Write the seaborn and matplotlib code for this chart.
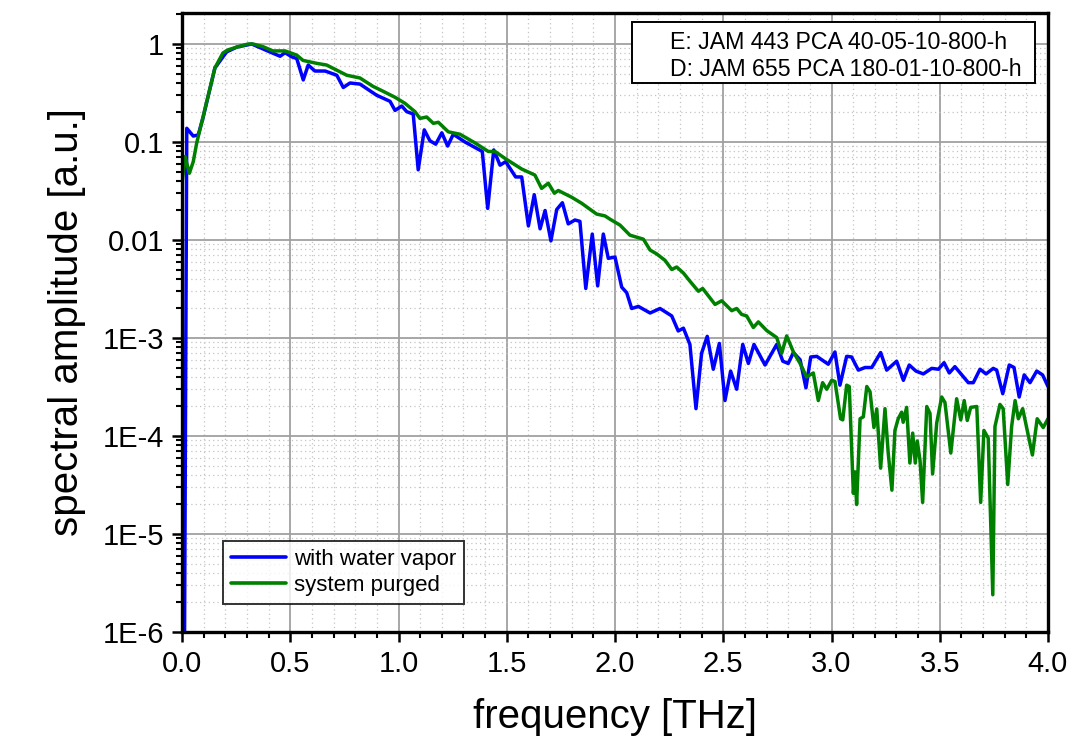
import numpy as np
import pandas as pd
import matplotlib
matplotlib.use("Agg")
import matplotlib.pyplot as plt
import seaborn as sns
from matplotlib.ticker import (FixedLocator, FixedFormatter, MultipleLocator,
                               LogLocator, NullFormatter)
from matplotlib.patches import Rectangle

# ---------------- data ----------------
freq_vapor = [0.0, 0.022, 0.052, 0.075, 0.098, 0.152, 0.206, 0.253, 0.322, 0.406,
              0.453, 0.476, 0.507, 0.530, 0.560, 0.583, 0.614, 0.661, 0.715, 0.745,
              0.776, 0.822, 0.899, 0.961, 0.984, 1.015, 1.038, 1.068, 1.091, 1.119,
              1.145, 1.172, 1.200, 1.227, 1.253, 1.307, 1.353, 1.387, 1.412, 1.440,
              1.469, 1.495, 1.541, 1.569, 1.600, 1.627, 1.654, 1.677, 1.704, 1.731,
              1.757, 1.784, 1.815, 1.838, 1.865, 1.895, 1.920, 1.946, 1.969, 2.000,
              2.031, 2.054, 2.077, 2.108, 2.162, 2.208, 2.262, 2.292, 2.316, 2.346,
              2.374, 2.400, 2.426, 2.454, 2.482, 2.508, 2.534, 2.562, 2.590, 2.616,
              2.642, 2.693, 2.747, 2.775, 2.800, 2.824, 2.855, 2.882, 2.904, 2.932,
              2.985, 3.016, 3.039, 3.070, 3.093, 3.124, 3.155, 3.186, 3.227, 3.255,
              3.301, 3.332, 3.359, 3.390, 3.424, 3.463, 3.494, 3.520, 3.544, 3.570,
              3.632, 3.655, 3.686, 3.714, 3.747, 3.763, 3.791, 3.821, 3.843, 3.867,
              3.890, 3.917, 3.948, 3.975, 4.000]
amp_vapor = [1e-12, 0.138, 0.115, 0.118, 0.18, 0.57, 0.83, 0.93, 1.0, 0.83,
             0.75, 0.815, 0.74, 0.71, 0.43, 0.61, 0.53, 0.53, 0.48, 0.36,
             0.40, 0.39, 0.30, 0.26, 0.21, 0.233, 0.204, 0.193, 0.052, 0.133,
             0.103, 0.095, 0.124, 0.091, 0.12, 0.10, 0.088, 0.08, 0.021, 0.083,
             0.058, 0.063, 0.044, 0.044, 0.0139, 0.029, 0.013, 0.020, 0.0098, 0.0205,
             0.024, 0.0146, 0.016, 0.0155, 0.0032, 0.0115, 0.0034, 0.0115, 0.0065, 0.0067,
             0.0033, 0.0029, 0.0020, 0.0021, 0.0018, 0.0020, 0.00168, 0.00118, 0.00126, 0.00086,
             0.00019, 0.00070, 0.00104, 0.00048, 0.00088, 0.00023, 0.00046, 0.00030, 0.00086, 0.00055,
             0.00086, 0.00053, 0.00086, 0.00058, 0.00055, 0.00071, 0.00060, 0.00031, 0.00064, 0.00065,
             0.00054, 0.00072, 0.00033, 0.00065, 0.00064, 0.00047, 0.00050, 0.00050, 0.00071, 0.00047,
             0.00058, 0.00037, 0.00053, 0.00046, 0.00043, 0.00049, 0.00048, 0.00056, 0.00044, 0.00051,
             0.00035, 0.00035, 0.00048, 0.00043, 0.00049, 0.00047, 0.00027, 0.00053, 0.00050, 0.00025,
             0.00042, 0.00035, 0.00046, 0.00042, 0.00032]

freq_purged = [0.0, 0.014, 0.034, 0.052, 0.068, 0.097, 0.152, 0.189, 0.212, 0.253,
               0.305, 0.328, 0.374, 0.420, 0.476, 0.530, 0.559, 0.622, 0.668, 0.730,
               0.761, 0.822, 0.882, 0.928, 0.984, 1.030, 1.076, 1.099, 1.130, 1.161,
               1.184, 1.230, 1.284, 1.353, 1.415, 1.446, 1.492, 1.569, 1.630, 1.661,
               1.692, 1.720, 1.738, 1.800, 1.846, 1.915, 1.954, 1.977, 2.023, 2.069,
               2.131, 2.162, 2.193, 2.231, 2.262, 2.285, 2.316, 2.346, 2.385, 2.405,
               2.431, 2.462, 2.493, 2.539, 2.562, 2.585, 2.608, 2.639, 2.662, 2.701,
               2.747, 2.770, 2.793, 2.824, 2.855, 2.885, 2.916, 2.939, 2.959, 2.978,
               3.001, 3.016, 3.042, 3.052, 3.070, 3.082, 3.101, 3.109, 3.116, 3.132,
               3.147, 3.163, 3.178, 3.196, 3.209, 3.227, 3.247, 3.262, 3.279, 3.293,
               3.308, 3.324, 3.331, 3.347, 3.362, 3.375, 3.387, 3.396, 3.409, 3.421,
               3.440, 3.455, 3.467, 3.486, 3.509, 3.524, 3.551, 3.578, 3.597, 3.613,
               3.627, 3.643, 3.671, 3.689, 3.704, 3.724, 3.745, 3.755, 3.778, 3.793,
               3.814, 3.832, 3.848, 3.863, 3.883, 3.904, 3.928, 3.950, 3.978, 4.000]
amp_purged = [0.038, 0.071, 0.048, 0.063, 0.098, 0.18, 0.57, 0.81, 0.87, 0.93,
              1.0, 1.0, 0.94, 0.85, 0.85, 0.77, 0.68, 0.635, 0.61, 0.52,
              0.48, 0.45, 0.37, 0.33, 0.286, 0.248, 0.204, 0.174, 0.18, 0.155,
              0.159, 0.127, 0.12, 0.098, 0.08, 0.08, 0.068, 0.053, 0.046, 0.0336,
              0.038, 0.030, 0.032, 0.0273, 0.0237, 0.0184, 0.0176, 0.0163, 0.0142, 0.0112,
              0.0102, 0.0079, 0.0072, 0.0062, 0.0050, 0.0053, 0.0046, 0.0038, 0.0030, 0.0032,
              0.0027, 0.0022, 0.0024, 0.0019, 0.0020, 0.00174, 0.00168, 0.00128, 0.00146, 0.00119,
              0.00101, 0.00070, 0.00105, 0.00072, 0.00055, 0.00040, 0.00044, 0.00023, 0.00035, 0.00030,
              0.00037, 0.00036, 0.00015, 0.000146, 0.00033, 0.00032, 2.6e-5, 4.3e-5, 2.0e-5, 0.00015,
              0.000157, 0.00032, 0.000283, 0.000122, 0.000189, 4.7e-5, 0.00019, 6.7e-5, 2.8e-5, 0.000114,
              0.00015, 0.000175, 0.000138, 0.000196, 5.3e-5, 0.000107, 5.3e-5, 8.9e-5, 5.6e-5, 2.1e-5,
              0.0002, 0.00017, 4.1e-5, 0.000136, 0.00025, 0.00022, 6.7e-5, 0.00024, 0.000146, 0.00023,
              0.000144, 0.000196, 0.0002, 2.1e-5, 0.000114, 9.5e-5, 2.4e-6, 0.000125, 0.00021, 0.00019,
              3.2e-5, 0.000125, 0.00023, 0.00015, 0.00019, 0.000114, 6.4e-5, 0.00015, 0.000122, 0.00015]

series_labels = ["with water vapor", "system purged"]
series_colors = ["#0000ff", "#008000"]

x_ticks = [0.0, 0.5, 1.0, 1.5, 2.0, 2.5, 3.0, 3.5, 4.0]
x_tick_labels = ["0.0", "0.5", "1.0", "1.5", "2.0", "2.5", "3.0", "3.5", "4.0"]
y_ticks = [1, 0.1, 0.01, 1e-3, 1e-4, 1e-5, 1e-6]
y_tick_labels = ["1", "0.1", "0.01", "1E-3", "1E-4", "1E-5", "1E-6"]

info_lines = ["E: JAM 443 PCA 40-05-10-800-h", "D: JAM 655 PCA 180-01-10-800-h"]
x_title = "frequency [THz]"
y_title = "spectral amplitude [a.u.]"

# ---------------- style ----------------
sns.set_style("white")
plt.rcParams['font.family'] = ['Liberation Sans', 'DejaVu Sans']
plt.rcParams['text.color'] = 'black'
plt.rcParams['axes.labelcolor'] = 'black'
plt.rcParams['xtick.color'] = 'black'
plt.rcParams['ytick.color'] = 'black'

W, H = 1075, 745
fig = plt.figure(figsize=(W / 100, H / 100), dpi=100)
L, R, T, B = 182, 1048, 13, 632
ax = fig.add_axes([L / W, 1 - B / H, (R - L) / W, (B - T) / H])

df = pd.concat([
    pd.DataFrame({"freq": freq_vapor, "amp": amp_vapor, "series": series_labels[0]}),
    pd.DataFrame({"freq": freq_purged, "amp": amp_purged, "series": series_labels[1]}),
], ignore_index=True)

sns.lineplot(data=df, x="freq", y="amp", hue="series", hue_order=series_labels,
             palette=dict(zip(series_labels, series_colors)), estimator=None,
             sort=False, linewidth=2.5, ax=ax)

ax.set_yscale("log")
ax.set_xlim(0, 4.0)
ax.set_ylim(1e-6, 10 ** ((44 - T) / 98))

# ticks
ax.xaxis.set_major_locator(FixedLocator(x_ticks))
ax.xaxis.set_major_formatter(FixedFormatter(x_tick_labels))
ax.xaxis.set_minor_locator(MultipleLocator(0.1))
ax.yaxis.set_major_locator(FixedLocator(y_ticks))
ax.yaxis.set_major_formatter(FixedFormatter(y_tick_labels))
ax.yaxis.set_minor_locator(LogLocator(base=10, subs=np.arange(2, 10), numticks=20))
ax.yaxis.set_minor_formatter(NullFormatter())

ax.tick_params(axis="both", which="major", direction="out", length=7, width=1.8,
               color="black", left=True, bottom=True, top=False, right=False)
ax.tick_params(axis="both", which="minor", direction="out", length=4.5, width=1.5,
               color="black", left=True, bottom=True, top=False, right=False)
ax.tick_params(axis="y", which="major", labelsize=21, pad=6, labelcolor="black")
ax.tick_params(axis="x", which="major", labelsize=21, pad=6, labelcolor="black")

# grid
ax.set_axisbelow(True)
ax.grid(which="major", color="#a0a0a0", linewidth=1.3, linestyle="-")
ax.grid(which="minor", color="#c4c4c4", linewidth=0.9, linestyle=(0, (1, 2.5)))

for sp in ax.spines.values():
    sp.set_visible(True)
    sp.set_color("black")
    sp.set_linewidth(2.4)

ax.set_xlabel(x_title, fontsize=29, labelpad=14, color="black")
ax.set_ylabel(y_title, fontsize=29, labelpad=12, color="black")

# legend
handles, labels = ax.get_legend_handles_labels()
leg = ax.legend(handles, labels, loc="lower left",
                bbox_to_anchor=((223 - L) / (R - L), (B - 604) / (B - T)),
                borderaxespad=0, fontsize=16, frameon=True, fancybox=False,
                edgecolor="black", handlelength=2.5, handletextpad=0.35,
                labelspacing=0.25, borderpad=0.35)
leg.get_frame().set_linewidth(1.4)
for t in leg.get_texts():
    t.set_color("black")
for h in leg.get_lines():
    h.set_linewidth(2.6)

# info box (upper right)
bx0 = (632 - L) / (R - L)
bx1 = (1035 - L) / (R - L)
by0 = (B - 83) / (B - T)
by1 = (B - 22) / (B - T)
ax.add_patch(Rectangle((bx0, by0), bx1 - bx0, by1 - by0, transform=ax.transAxes,
                       facecolor="white", edgecolor="black", linewidth=1.4, zorder=5))
tx = (670 - L) / (R - L)
for line, yy in zip(info_lines, [43, 70]):
    ax.text(tx, (B - yy) / (B - T), line, transform=ax.transAxes, fontsize=16.7,
            ha="left", va="center", color="black", zorder=6)

fig.savefig("out.png", dpi=100)
